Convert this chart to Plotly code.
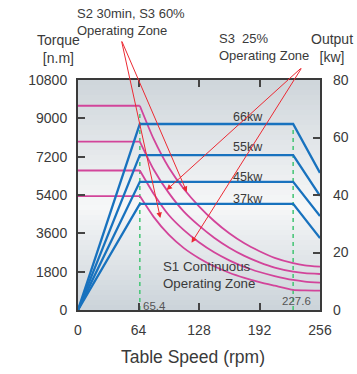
import plotly.graph_objects as go

# ---------------- data ----------------
speeds = [0, 65.4, 80, 96, 112, 128, 144, 160, 176, 192, 208, 227.6, 240, 256]
torque_66 = [9590, 9590, 8030, 6690, 5680, 4870, 4180, 3600, 3130, 2760, 2450, 2200, 2095, 2033]
torque_55 = [7910, 7910, 6600, 5500, 4620, 3960, 3395, 2925, 2540, 2235, 1990, 1800, 1730, 1690]
torque_45 = [6550, 6550, 5460, 4460, 3750, 3180, 2707, 2330, 2020, 1785, 1596, 1410, 1335, 1282]
torque_37 = [5350, 5350, 4374, 3535, 2905, 2433, 2053, 1750, 1511, 1312, 1144, 945, 920, 906]

power_speeds = [0, 65.4, 227.6, 256]
power_66 = [0, 64.7, 64.7, 47.7]
power_55 = [0, 53.9, 53.9, 39.7]
power_45 = [0, 44.6, 44.6, 32.7]
power_37 = [0, 36.9, 36.9, 25.0]
power_labels = ["66kw", "55kw", "45kw", "37kw"]

base_speeds = [65.4, 227.6]
guide_tops = [9400, 8500]

x_ticks = [0, 64, 128, 192, 256]
torque_ticks = [0, 1800, 3600, 5400, 7200, 9000, 10800]
torque_tick_text = ["0", "1800", "3600", "5400", "7200", "9000", "10800"]
power_ticks = [0, 20, 40, 60, 80]

# ---------------- layout geometry ----------------
W, H = 357, 374
L, R, T, B = 78, 37, 80, 64
PW, PH = W - L - R, H - T - B

def px(x):
    return (x - L) / PW

def py(y):
    return (H - B - y) / PH

PINK = "#d2449a"
BLUE = "#1872be"
GREEN = "#4cc77a"
RED = "#ec2a33"
TXT = "#3a3a3a"
FONT = "Liberation Sans, Arial, sans-serif"

fig = go.Figure()

# green dashed guide lines
for s, top in zip(base_speeds, guide_tops):
    fig.add_trace(go.Scatter(x=[s, s], y=[0, top], mode="lines",
                             line=dict(color=GREEN, width=1.6, dash="4px,4px"),
                             hoverinfo="skip", showlegend=False))

# blue power lines (right axis)
for p in [power_66, power_55, power_45, power_37]:
    fig.add_trace(go.Scatter(x=power_speeds, y=p, mode="lines", yaxis="y2",
                             line=dict(color=BLUE, width=2.3),
                             showlegend=False))

# pink torque curves: flat part straight, decaying part smooth
for tq in [torque_66, torque_55, torque_45, torque_37]:
    fig.add_trace(go.Scatter(x=speeds[:2], y=tq[:2], mode="lines",
                             line=dict(color=PINK, width=1.8),
                             showlegend=False))
    fig.add_trace(go.Scatter(x=speeds[1:], y=tq[1:], mode="lines",
                             line=dict(color=PINK, width=1.8, shape="spline", smoothing=0.6),
                             showlegend=False))

# background gradient (paper y: 0 bottom, 1 top)
stops = [(0.0, (203, 211, 217)), (0.45, (246, 247, 248)), (1.0, (206, 213, 218))]

def col(t):
    for (t0, c0), (t1, c1) in zip(stops[:-1], stops[1:]):
        if t0 <= t <= t1:
            f = (t - t0) / (t1 - t0)
            return "rgb(%d,%d,%d)" % tuple(round(a + (b - a) * f) for a, b in zip(c0, c1))
    return "rgb(%d,%d,%d)" % stops[-1][1]

shapes = []
N = 46
for i in range(N):
    shapes.append(dict(type="rect", xref="paper", yref="paper", layer="below",
                       x0=0, x1=1, y0=i / N, y1=(i + 1) / N + 0.002,
                       fillcolor=col((i + 0.5) / N), line=dict(width=0)))

ann = []

def text(x, y, s, size=13, color=TXT, xanchor="left", yanchor="middle", align="left"):
    ann.append(dict(x=px(x), y=py(y), xref="paper", yref="paper", text=s,
                    showarrow=False, xanchor=xanchor, yanchor=yanchor, align=align,
                    font=dict(size=size, color=color, family=FONT)))

text(75, 22, "S2 30min, S3 60%<br>Operating Zone", size=13, yanchor="middle")
text(217, 47, "S3  25%<br>Operating Zone", size=13, yanchor="middle")
text(58, 49, "Torque<br>[n.m]", size=14, xanchor="center", align="center")
text(332, 48, "Output<br>[kw]", size=14, xanchor="center", align="center")
text(193, 357, "Table Speed (rpm)", size=17.5, xanchor="center")
text(161, 275, "S1 Continuous<br>Operating Zone", size=13.3, yanchor="middle")
text(141, 306, "65.4", size=11.5, color="#555")
text(296, 301, "227.6", size=11.5, color="#555", xanchor="center")

for lab, yy in zip(power_labels, [117, 147, 177, 198.5]):
    text(231, yy, lab, size=12.5)

# red arrows: head in data coords, tail offset in px
arrows = [((87.1, 4320), (-39, -178)),
          ((115.1, 5541), (-65.5, -152)),
          ((93.7, 5635), (135.7, -123)),
          ((120.1, 3160), (110.7, -175.7))]
for (hx, hy), (ax, ay) in arrows:
    ann.append(dict(x=hx, y=hy, xref="x", yref="y", ax=ax, ay=ay, text="",
                    showarrow=True, arrowhead=2, arrowsize=1.1, arrowwidth=1,
                    arrowcolor=RED))

fig.update_layout(
    width=W, height=H,
    margin=dict(l=L, r=R, t=T, b=B, pad=0, autoexpand=False),
    paper_bgcolor="white", plot_bgcolor="rgba(0,0,0,0)",
    font=dict(family=FONT, color=TXT, size=14),
    showlegend=False,
    shapes=shapes,
    annotations=ann,
    xaxis=dict(range=[0, 256], tickvals=x_ticks, ticks="inside", ticklen=7,
               tickcolor="#444", tickwidth=1.5, automargin=False,
               showline=True, linecolor="#3a3a3a", linewidth=2, mirror="ticks",
               showgrid=False, zeroline=False, ticklabelstandoff=6,
               tickfont=dict(size=14, color=TXT)),
    yaxis=dict(range=[0, 10800], tickvals=torque_ticks, ticktext=torque_tick_text,
               ticks="inside", ticklen=7, automargin=False,
               tickcolor="#444", tickwidth=1.5,
               showline=True, linecolor="#3a3a3a", linewidth=2, mirror=True,
               showgrid=False, zeroline=False, ticklabelstandoff=6,
               tickfont=dict(size=14, color=TXT)),
    yaxis2=dict(range=[0, 80], tickvals=power_ticks, overlaying="y", side="right",
                ticks="inside", ticklen=7, tickcolor="#444", tickwidth=1.5,
                automargin=False,
                showline=False, showgrid=False, zeroline=False, ticklabelstandoff=12,
                tickfont=dict(size=14, color=TXT)),
)

fig.write_html("out.html",
               config={"displayModeBar": False},
               post_script="document.body.style.margin='0';document.body.style.overflow='hidden';")
